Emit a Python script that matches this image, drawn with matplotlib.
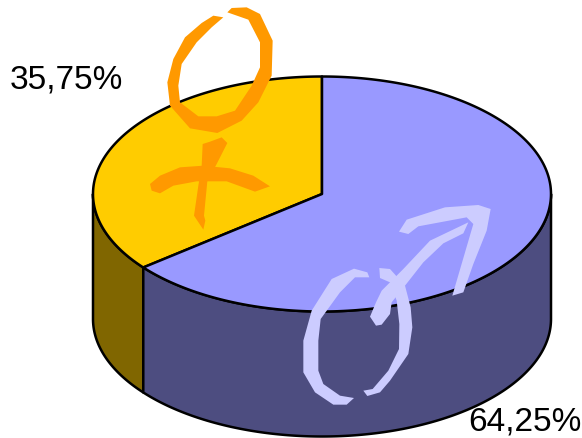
import numpy as np
import matplotlib
matplotlib.use("Agg")
import matplotlib.pyplot as plt
from matplotlib.patches import Polygon

shares = [35.75, 64.25]
labels = ["35,75%", "64,25%"]
top_colors = ["#FFCC00", "#9999FF"]
side_colors = ["#806600", "#4D4D80"]
mark_colors = ["#FF9900", "#CCCCFF"]

CX, CY, RX, RY, DEPTH = 322, 195, 229, 117.5, 125

fig = plt.figure(figsize=(5.82, 4.39), dpi=100)
ax = fig.add_axes([0, 0, 1, 1])
ax.set_xlim(0, 582)
ax.set_ylim(439, 0)
ax.axis("off")


def arc(a0, a1, dy=0.0):
    t = np.radians(np.linspace(a0, a1, 240))
    return np.column_stack([CX + RX * np.cos(t), CY - RY * np.sin(t) + dy])


a_start = 90.0
a_split = a_start + shares[0] / 100 * 360
a_end = a_start + 360

LW = 1.8
# side walls: only the front half (180..360 deg) is visible
side_ranges = [(180.0, a_split), (a_split, 360.0)]
for (a0, a1), c in zip(side_ranges, side_colors):
    upper = arc(a0, a1)
    lower = arc(a1, a0, DEPTH)
    ax.add_patch(Polygon(np.vstack([upper, lower]), closed=True, facecolor=c,
                         edgecolor="black", lw=LW, joinstyle="round"))

# top face
centre = np.array([[CX, CY]])
for (a0, a1), c in zip([(a_start, a_split), (a_split, a_end)], top_colors):
    ax.add_patch(Polygon(np.vstack([centre, arc(a0, a1)]), closed=True, facecolor=c,
                         edgecolor="black", lw=LW, joinstyle="round"))

# hand-drawn gender symbols (traced outlines)
female_origin, male_origin = (130, 0), (290, 195)
female_shapes = [
    [(280, 55), (250, 50), (215, 72), (165, 115), (130, 180), (112, 250), (120, 320), (180, 388),
     (262, 402), (335, 365), (385, 310), (425, 230), (428, 125), (390, 45), (350, 25), (305, 27),
     (292, 40), (355, 62), (390, 130), (390, 205), (365, 260), (315, 335), (260, 352), (205, 352),
     (150, 310), (145, 260), (155, 195), (200, 130), (245, 85)],
    [(60, 555), (65, 575), (90, 583), (130, 560), (200, 547), (290, 547), (375, 578), (420, 562),
     (370, 530), (300, 508), (220, 500), (150, 505), (90, 530)],
    [(218, 435), (215, 500), (205, 560), (192, 650), (220, 692), (226, 665), (222, 650), (232, 547),
     (260, 495), (292, 432), (275, 415), (240, 428)],
]
male_shapes = [
    [(238, 250), (195, 250), (150, 295), (92, 375), (85, 440), (85, 530), (100, 570), (150, 605),
     (192, 612), (170, 632), (130, 632), (75, 595), (40, 535), (40, 440), (65, 350), (125, 255),
     (192, 224), (232, 235)],
    [(268, 222), (300, 225), (345, 275), (362, 340), (367, 400), (355, 480), (300, 560), (270, 595),
     (232, 606), (220, 590), (248, 585), (295, 530), (327, 465), (328, 390), (320, 320), (300, 265),
     (270, 252)],
    [(240, 368), (258, 395), (275, 392), (300, 360), (305, 325), (345, 275), (400, 205), (460, 148),
     (520, 118), (535, 85), (420, 140), (340, 225), (275, 290), (258, 325)],
    [(327, 113), (355, 120), (385, 97), (530, 70), (550, 90), (487, 305), (520, 295), (550, 210),
     (590, 110), (602, 45), (565, 33), (465, 40), (350, 77)],
]
for shapes, origin, c in zip([female_shapes, male_shapes], [female_origin, male_origin], mark_colors):
    for s in shapes:
        pts = np.array(s, dtype=float) / 3 + origin
        ax.add_patch(Polygon(pts, closed=True, facecolor=c, edgecolor="none", zorder=5))

font = dict(family="Liberation Sans", fontsize=24.0, color="black", va="baseline", ha="left", zorder=6)
ax.text(10, 88.5, labels[0], **font)
ax.text(468.5, 431, labels[1], **font)

fig.savefig("out.png", dpi=100)
